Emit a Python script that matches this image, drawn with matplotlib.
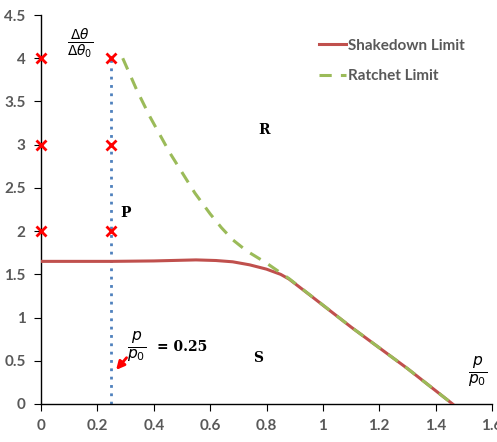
import matplotlib
matplotlib.use("Agg")
import matplotlib.pyplot as plt

# Data
shake_x = [0.0, 0.1, 0.25, 0.4, 0.5, 0.55, 0.62, 0.68, 0.74, 0.8, 0.85, 0.88, 0.95, 1.1, 1.3, 1.46]
shake_y = [1.65, 1.65, 1.65, 1.655, 1.663, 1.667, 1.66, 1.645, 1.61, 1.56, 1.50, 1.445, 1.27, 0.89, 0.41, 0.0]
ratchet_x = [0.29, 0.34, 0.387, 0.458, 0.546, 0.60, 0.64, 0.68, 0.73, 0.80, 0.88, 1.1, 1.3, 1.46]
ratchet_y = [4.0, 3.63, 3.32, 2.90, 2.44, 2.20, 2.04, 1.90, 1.77, 1.63, 1.45, 0.89, 0.41, 0.0]
cross_x = [0, 0, 0, 0.25, 0.25, 0.25]
cross_y = [2, 3, 4, 2, 3, 4]
vline_x = [0.25, 0.25]
vline_y = [0, 4]
xticks = [0, 0.2, 0.4, 0.6, 0.8, 1, 1.2, 1.4, 1.6]
xticklabels = ["0", "0.2", "0.4", "0.6", "0.8", "1", "1.2", "1.4", "1.6"]
yticks = [0, 0.5, 1, 1.5, 2, 2.5, 3, 3.5, 4, 4.5]
yticklabels = ["0", "0.5", "1", "1.5", "2", "2.5", "3", "3.5", "4", "4.5"]

fig = plt.figure(figsize=(4.97, 4.42), dpi=100)
ax = fig.add_axes([0.0825, 0.086, 0.9075, 0.880])

ax.plot(vline_x, vline_y, color="#4F81BD", linestyle=(0, (1, 2)), linewidth=2, zorder=2)
ax.plot(shake_x, shake_y, color="#C0504D", linewidth=2.2, label="Shakedown Limit", zorder=3)
ax.plot(ratchet_x, ratchet_y, color="#9BBB59", linewidth=2.2, linestyle=(0, (4, 3)),
        label="Ratchet Limit", zorder=4)
ax.plot(cross_x, cross_y, linestyle="none", marker="x", color="#FF0000", markersize=7,
        markeredgewidth=2, zorder=5, clip_on=False)

ax.set_xlim(0, 1.6)
ax.set_ylim(0, 4.5)
ax.set_xticks(xticks)
ax.set_xticklabels(xticklabels)
ax.set_yticks(yticks)
ax.set_yticklabels(yticklabels)
for s in ["top", "right"]:
    ax.spines[s].set_visible(False)
for s in ["left", "bottom"]:
    ax.spines[s].set_linewidth(1.0)
ax.tick_params(axis="both", direction="out", length=5, labelsize=11, colors="black",
               labelcolor="#595959", pad=6)
for lab in ax.get_xticklabels() + ax.get_yticklabels():
    lab.set_fontweight("bold")
    lab.set_family(["Lato", "DejaVu Sans"])

leg = ax.legend(loc="upper left", bbox_to_anchor=(0.585, 0.975), frameon=False,
                handlelength=1.8, handletextpad=0.1, labelspacing=1.1,
                prop={"family": "Lato", "weight": "bold", "size": 11})
for t in leg.get_texts():
    t.set_color("#595959")

ax.text(0.79, 3.17, "R", fontsize=10, fontweight="bold", family="DejaVu Serif",
        ha="center", va="center")
ax.text(0.30, 2.21, "P", fontsize=10, fontweight="bold", family="DejaVu Serif",
        ha="center", va="center")
ax.text(0.77, 0.53, "S", fontsize=10, fontweight="bold", family="DejaVu Serif",
        ha="center", va="center")

ax.text(0.14, 4.17, r"$\frac{\Delta\theta}{\Delta\theta_0}$", fontsize=14,
        ha="center", va="center")
ax.text(1.55, 0.37, r"$\frac{p}{p_0}$", fontsize=16, ha="center", va="center")
ax.text(0.34, 0.66, r"$\frac{p}{p_0}$", fontsize=16, ha="center", va="center")
ax.text(0.41, 0.66, "= 0.25", fontsize=10, fontweight="bold", family="DejaVu Serif",
        ha="left", va="center")
ax.annotate("", xy=(0.26, 0.37), xytext=(0.31, 0.56),
            arrowprops=dict(arrowstyle="-|>", color="#FF0000", lw=2, mutation_scale=12))

fig.savefig("out.png", dpi=100)
